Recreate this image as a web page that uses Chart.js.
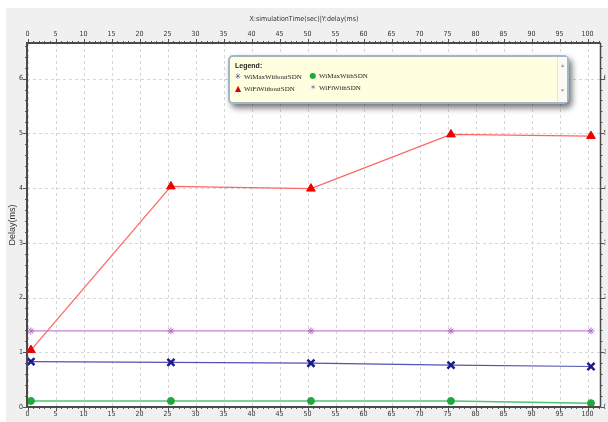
<!DOCTYPE html>
<html>
<head>
<meta charset="utf-8">
<script src="https://cdn.jsdelivr.net/npm/chart.js@4.4.0/dist/chart.umd.min.js"></script>
<style>
  body { margin: 0; background: #fff; }
  #wrap { position: relative; width: 608px; height: 422px; }
  #legendBox {
    position: absolute; left: 228px; top: 55px; width: 337px; height: 45px;
    background: #ffffe0; border: 2px solid #9fb6cf; border-radius: 5px;
    box-shadow: 3px 4px 6px rgba(0,0,0,0.55);
    font-family: 'Liberation Serif', 'DejaVu Serif', serif; font-size: 7px; color: #222;
  }
  #legendBox .head { position: absolute; left: 5px; top: 5px; font-family: 'Liberation Sans', sans-serif; font-weight: bold; font-size: 7px; color: #222; }
  #legendBox .item { position: absolute; white-space: nowrap; line-height: 10px; }
  #legendBox .item b { display: inline-block; width: 8px; font-weight: normal; font-size: 8px; text-align: center; margin-right: 2px; font-family: 'DejaVu Sans', sans-serif; }
  #legendBox .scroll { position: absolute; right: 0; top: 0; width: 9px; height: 45px; border-left: 1px solid #e4e4e4; background: #fbfbf4; color: #999; font-size: 5px; text-align: center; }
</style>
</head>
<body>
<div id="wrap">
  <canvas id="delayChart"></canvas>
  <div id="legendBox"></div>
</div>
<script>
// values
const xValues = [0.6, 25.6, 50.6, 75.6, 100.6];
const wimaxWithoutSDN = [0.83, 0.815, 0.80, 0.765, 0.74];
const wifiWithoutSDN = [1.04, 4.03, 3.99, 4.98, 4.95];
const wimaxWithSDN = [0.11, 0.11, 0.11, 0.11, 0.07];
const wifiWithSDN = [1.39, 1.39, 1.39, 1.39, 1.39];
const seriesNames = ['WiMaxWithoutSDN', 'WiFiWithoutSDN', 'WiMaxWithSDN', 'WiFiWithSDN'];
const xTicks = [0, 5, 10, 15, 20, 25, 30, 35, 40, 45, 50, 55, 60, 65, 70, 75, 80, 85, 90, 95, 100];
const yTicks = [0, 1, 2, 3, 4, 5, 6];

const narrow = "'DejaVu Sans Condensed', 'Liberation Sans Narrow', 'Liberation Sans', sans-serif";
const toPoints = ys => xValues.map((x, i) => ({ x: x, y: ys[i] }));

// legend box (html)
const legendIcons = [
  { ch: '✳', color: '#3a3aa8', left: 4, top: 15 },
  { ch: '▲', color: '#e00000', left: 4, top: 27 },
  { ch: '●', color: '#20a840', left: 79, top: 14 },
  { ch: '✶', color: '#b070c8', left: 79, top: 26 }
];
const lb = document.getElementById('legendBox');
lb.innerHTML = '<div class="head">Legend:</div>' +
  seriesNames.map((n, i) => {
    const ic = legendIcons[i];
    return '<div class="item" style="left:' + ic.left + 'px;top:' + ic.top + 'px"><b style="color:' + ic.color + '">' + ic.ch + '</b>' + n + '</div>';
  }).join('') +
  '<div class="scroll"><div style="margin-top:6px">▲</div><div style="margin-top:20px">▼</div></div>';

// background, dashed grid, axis lines and tick marks
const frame = {
  id: 'frame',
  beforeDraw(chart) {
    const { ctx, chartArea: a } = chart;
    ctx.save();
    ctx.fillStyle = '#f0f0f0';
    ctx.fillRect(6, 8, chart.width - 6, chart.height - 8);
    ctx.fillStyle = '#ffffff';
    ctx.fillRect(a.left, a.top, a.right - a.left, a.bottom - a.top);
    ctx.strokeStyle = '#d6d6d6';
    ctx.lineWidth = 1;
    ctx.setLineDash([3, 3]);
    const sx = chart.scales.x, sy = chart.scales.y;
    xTicks.forEach(v => {
      const px = Math.round(sx.getPixelForValue(v)) + 0.5;
      ctx.beginPath(); ctx.moveTo(px, a.top); ctx.lineTo(px, a.bottom); ctx.stroke();
    });
    yTicks.forEach(v => {
      const py = Math.round(sy.getPixelForValue(v)) + 0.5;
      ctx.beginPath(); ctx.moveTo(a.left, py); ctx.lineTo(a.right, py); ctx.stroke();
    });
    ctx.restore();
  },
  afterDatasetsDraw(chart) {
    const { ctx, chartArea: a } = chart;
    const sx = chart.scales.x, sy = chart.scales.y;
    ctx.save();
    ctx.strokeStyle = '#555';
    ctx.lineWidth = 1;
    // x minor/major ticks on top and bottom
    for (let v = 0; v <= 102; v++) {
      const px = Math.round(sx.getPixelForValue(v)) + 0.5;
      const len = v % 5 === 0 ? 4 : 2;
      ctx.beginPath();
      ctx.moveTo(px, a.top); ctx.lineTo(px, a.top - len);
      ctx.moveTo(px, a.bottom); ctx.lineTo(px, a.bottom + len);
      ctx.stroke();
    }
    for (let i = 0; i <= 33; i++) {
      const v = i / 5;
      const py = Math.round(sy.getPixelForValue(v)) + 0.5;
      const len = i % 5 === 0 ? 4 : 2;
      ctx.beginPath();
      ctx.moveTo(a.left, py); ctx.lineTo(a.left - len, py);
      ctx.moveTo(a.right, py); ctx.lineTo(a.right + len, py);
      ctx.stroke();
    }
    ctx.strokeStyle = '#4a4a4a';
    ctx.lineWidth = 2;
    ctx.beginPath();
    ctx.moveTo(a.left, a.bottom); ctx.lineTo(a.left, a.top); ctx.lineTo(a.right, a.top);
    ctx.moveTo(a.left, a.bottom); ctx.lineTo(a.right, a.bottom);
    ctx.stroke();
    ctx.lineWidth = 1.5;
    ctx.beginPath(); ctx.moveTo(a.right, a.top); ctx.lineTo(a.right, a.bottom); ctx.stroke();
    ctx.restore();
  }
};

const tickFont = { family: narrow, size: 7 };
const fixTicks = list => s => { s.ticks = list.map(v => ({ value: v })); };
const noGrid = { display: false, drawTicks: false };

new Chart(document.getElementById('delayChart'), {
  type: 'line',
  data: {
    datasets: [
      {
        label: seriesNames[0], data: toPoints(wimaxWithoutSDN),
        borderColor: '#5252b6', borderWidth: 1.2,
        pointStyle: 'crossRot', pointRadius: 5, pointBorderWidth: 2.5,
        pointBorderColor: '#1a1a8c', pointBackgroundColor: '#1a1a8c'
      },
      {
        label: seriesNames[1], data: toPoints(wifiWithoutSDN),
        borderColor: '#ff6464', borderWidth: 1.2,
        pointStyle: 'triangle', pointRadius: 5, pointBorderWidth: 1,
        pointBorderColor: '#ee0000', pointBackgroundColor: '#ee0000'
      },
      {
        label: seriesNames[2], data: toPoints(wimaxWithSDN),
        borderColor: '#52c274', borderWidth: 1.5,
        pointStyle: 'circle', pointRadius: 3.5, pointBorderWidth: 1,
        pointBorderColor: '#20a840', pointBackgroundColor: '#20a840'
      },
      {
        label: seriesNames[3], data: toPoints(wifiWithSDN),
        borderColor: '#c484d4', borderWidth: 1.2,
        pointStyle: 'star', pointRadius: 3.5, pointBorderWidth: 1,
        pointBorderColor: '#b070c8', pointBackgroundColor: '#b070c8'
      }
    ]
  },
  options: {
    responsive: true,
    maintainAspectRatio: false,
    animation: false,
    layout: { padding: 0 },
    datasets: { line: { tension: 0, clip: 8 } },
    plugins: {
      legend: { display: false },
      tooltip: { enabled: false },
      title: {
        display: true,
        text: 'X:simulationTime(sec)|Y:delay(ms)',
        color: '#333',
        font: { family: narrow, size: 7, weight: 'normal' },
        padding: { top: 15, bottom: 0 }
      }
    },
    scales: {
      x: {
        type: 'linear', position: 'bottom', min: -0.1, max: 102.3,
        grid: noGrid, border: { display: false },
        afterBuildTicks: fixTicks(xTicks),
        afterFit: s => { s.height = 15; },
        ticks: { padding: 3, maxRotation: 0, autoSkip: false, font: tickFont, color: '#333' }
      },
      x2: {
        type: 'linear', position: 'top', min: -0.1, max: 102.3,
        grid: noGrid, border: { display: false },
        afterBuildTicks: fixTicks(xTicks),
        afterFit: s => { s.height = 19.6; },
        ticks: { padding: 5, maxRotation: 0, autoSkip: false, font: tickFont, color: '#333' }
      },
      y: {
        type: 'linear', position: 'left', min: 0, max: 6.65,
        grid: noGrid, border: { display: false },
        afterBuildTicks: fixTicks(yTicks),
        afterFit: s => { s.width = 27; },
        title: { display: true, text: 'Delay(ms)', color: '#333', font: { family: "'Liberation Sans', sans-serif", size: 9 }, padding: { top: 7, bottom: 0 } },
        ticks: { padding: 4, font: tickFont, color: '#333' }
      },
      y2: {
        type: 'linear', position: 'right', min: 0, max: 6.65,
        grid: noGrid, border: { display: false },
        afterBuildTicks: fixTicks(yTicks),
        afterFit: s => { s.width = 5; },
        ticks: { padding: 3, font: tickFont, color: '#333' }
      }
    }
  },
  plugins: [frame]
});
</script>
</body>
</html>
